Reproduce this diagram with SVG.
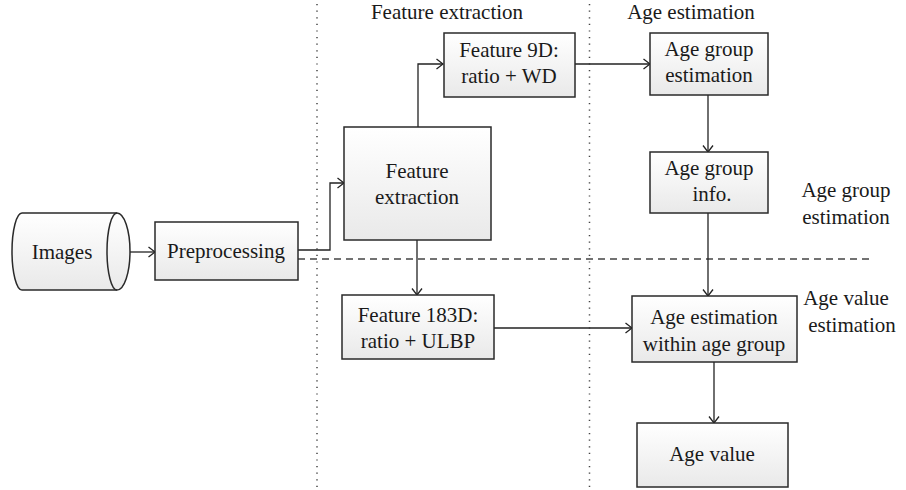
<svg xmlns="http://www.w3.org/2000/svg" width="906" height="490" viewBox="0 0 906 490">
<defs>
  <linearGradient id="g" x1="0" y1="0" x2="0" y2="1">
    <stop offset="0" stop-color="#ffffff"/>
    <stop offset="1" stop-color="#e9e9e9"/>
  </linearGradient>
  <marker id="arr" viewBox="0 0 10 12" refX="9.5" refY="6" markerWidth="10" markerHeight="12" markerUnits="userSpaceOnUse" orient="auto">
    <polyline points="3,1 9.5,6 3,11" fill="none" stroke="#222" stroke-width="1.3"/>
  </marker>
  <style>
    .box{fill:url(#g);stroke:#2a2a2a;stroke-width:1.5}
    .t{font-family:'Liberation Serif','Times New Roman','DejaVu Serif',serif;font-size:21px;fill:#1a1a1a;text-anchor:middle}
    .c{fill:none;stroke:#222;stroke-width:1.3}
    .dot{fill:none;stroke:#444;stroke-width:1.5;stroke-dasharray:1.2 5.4}
    .dash{fill:none;stroke:#444;stroke-width:1.3;stroke-dasharray:7 5}
  </style>
</defs>
<rect width="906" height="490" fill="#fff"/>
<g id="guides">
  <line class="dot" x1="317" y1="4" x2="317" y2="488"/>
  <line class="dot" x1="589.5" y1="4" x2="589.5" y2="488"/>
  <line class="dash" x1="298" y1="259" x2="873" y2="259"/>
</g>
<g id="labels">
  <text class="t" x="447" y="19">Feature extraction</text>
  <text class="t" x="691" y="19">Age estimation</text>
  <text class="t" x="846" y="197">Age group</text>
  <text class="t" x="846" y="224">estimation</text>
  <text class="t" x="846" y="305">Age value</text>
  <text class="t" x="852" y="332">estimation</text>
</g>
<g id="connectors">
  <line class="c" x1="130" y1="252" x2="155" y2="252" marker-end="url(#arr)"/>
  <polyline class="c" points="298,250 330,250 330,183 344,183" marker-end="url(#arr)"/>
  <polyline class="c" points="418,127 418,64 443,64" marker-end="url(#arr)"/>
  <line class="c" x1="575" y1="64" x2="650" y2="64" marker-end="url(#arr)"/>
  <line class="c" x1="708" y1="95" x2="708" y2="152" marker-end="url(#arr)"/>
  <line class="c" x1="708" y1="213" x2="708" y2="296" marker-end="url(#arr)"/>
  <line class="c" x1="417" y1="240" x2="417" y2="295" marker-end="url(#arr)"/>
  <line class="c" x1="494" y1="328" x2="632" y2="328" marker-end="url(#arr)"/>
  <line class="c" x1="714" y1="362" x2="714" y2="423" marker-end="url(#arr)"/>
</g>
<g id="images">
  <path class="box" d="M22,213 L117,213 A13,38.5 0 0 1 117,290 L22,290 A10,38.5 0 0 1 22,213 Z"/>
  <path d="M117,213 A10,38.5 0 0 0 117,290" fill="none" stroke="#2a2a2a" stroke-width="1.5"/>
  <text class="t" x="62" y="259">Images</text>
</g>
<g id="preprocessing">
  <rect class="box" x="155" y="222" width="143" height="58"/>
  <text class="t" x="226" y="258">Preprocessing</text>
</g>
<g id="feature-extraction">
  <rect class="box" x="344" y="127" width="147" height="113"/>
  <text class="t" x="417" y="178">Feature</text>
  <text class="t" x="417" y="204">extraction</text>
</g>
<g id="feature-9d">
  <rect class="box" x="444" y="33" width="131" height="64"/>
  <text class="t" x="509" y="57">Feature 9D:</text>
  <text class="t" x="509" y="83">ratio + WD</text>
</g>
<g id="age-group-estimation">
  <rect class="box" x="650" y="33" width="118" height="62"/>
  <text class="t" x="709" y="56">Age group</text>
  <text class="t" x="709" y="82">estimation</text>
</g>
<g id="age-group-info">
  <rect class="box" x="650" y="152" width="118" height="61"/>
  <text class="t" x="709" y="175">Age group</text>
  <text class="t" x="712" y="201">info.</text>
</g>
<g id="feature-183d">
  <rect class="box" x="342" y="295" width="152" height="64"/>
  <text class="t" x="418" y="322">Feature 183D:</text>
  <text class="t" x="418" y="348">ratio + ULBP</text>
</g>
<g id="age-estimation-within">
  <rect class="box" x="632" y="296" width="165" height="66"/>
  <text class="t" x="714" y="324">Age estimation</text>
  <text class="t" x="714" y="351">within age group</text>
</g>
<g id="age-value">
  <rect class="box" x="637" y="423" width="151" height="64"/>
  <text class="t" x="712" y="461">Age value</text>
</g>
</svg>
